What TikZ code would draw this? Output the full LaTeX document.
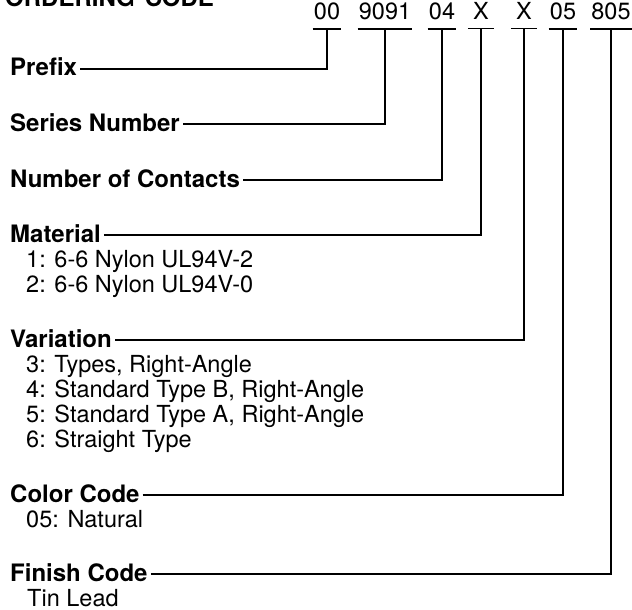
\documentclass[tikz,border=0pt]{standalone}
\usepackage{fontspec}
\setmainfont{TeX Gyre Heros}
\usetikzlibrary{calc}

\begin{document}
\begin{tikzpicture}[x=1pt, y=-1pt,
    field/.style={anchor=base west, inner xsep=3pt, inner ysep=0pt,
                  font=\fontsize{24}{25}\selectfont\bfseries},
    item/.style={anchor=base west, inner sep=0pt, font=\fontsize{23.5}{25}\selectfont},
    code/.style={anchor=base, inner xsep=1pt, inner ysep=0pt, minimum width=26pt,
                 font=\fontsize{23.5}{25}\selectfont},
    wire/.style={line width=1.3pt}
]
    \useasboundingbox (0,0) rectangle (632,610);

    % title, cut off at the top edge
    \node[field] (title) at (2,7) {ORDERING\hspace{10pt}CODE};

    % the ordering code, each part underlined
    \foreach \name/\x/\txt in {pre/327/00, ser/385/9091, con/442/04, mat/481/X,
                               var/524/X, col/563/05, fin/611/805} {
        \node[code] (c-\name) at (\x,20) {\txt};
        \draw[wire] ([yshift=-8.5pt]c-\name.south west) -- ([yshift=-8.5pt]c-\name.south east);
        \coordinate (u-\name) at ([yshift=-8.5pt]c-\name.south);
    }

    % field names
    \node[field] (pre) at (7,76)  {Prefix};
    \node[field] (ser) at (7,131) {Series Number};
    \node[field] (con) at (7,187) {Number of Contacts};
    \node[field] (mat) at (7,242) {Material};
    \node[field] (var) at (7,347) {Variation};
    \node[field] (col) at (7,502) {Color Code};
    \node[field] (fin) at (7,581) {Finish Code};

    % options
    \node[item] (mat-1) at (26,267) {1: 6-6 Nylon UL94V-2};
    \node[item] (mat-2) at (26,292) {2: 6-6 Nylon UL94V-0};
    \node[item] (var-3) at (26,372) {3: Types, Right-Angle};
    \node[item] (var-4) at (26,397) {4: Standard Type B, Right-Angle};
    \node[item] (var-5) at (26,422) {5: Standard Type A, Right-Angle};
    \node[item] (var-6) at (26,447) {6: Straight Type};
    \node[item] (col-1) at (26,527) {05: Natural};
    \node[item] (fin-1) at (27,606) {Tin Lead};

    % leaders from each field to its part of the code
    \foreach \name in {pre,ser,con,mat,var,col,fin}
        \draw[wire] ([yshift=7pt]\name.base east) -| (u-\name);
\end{tikzpicture}
\end{document}
